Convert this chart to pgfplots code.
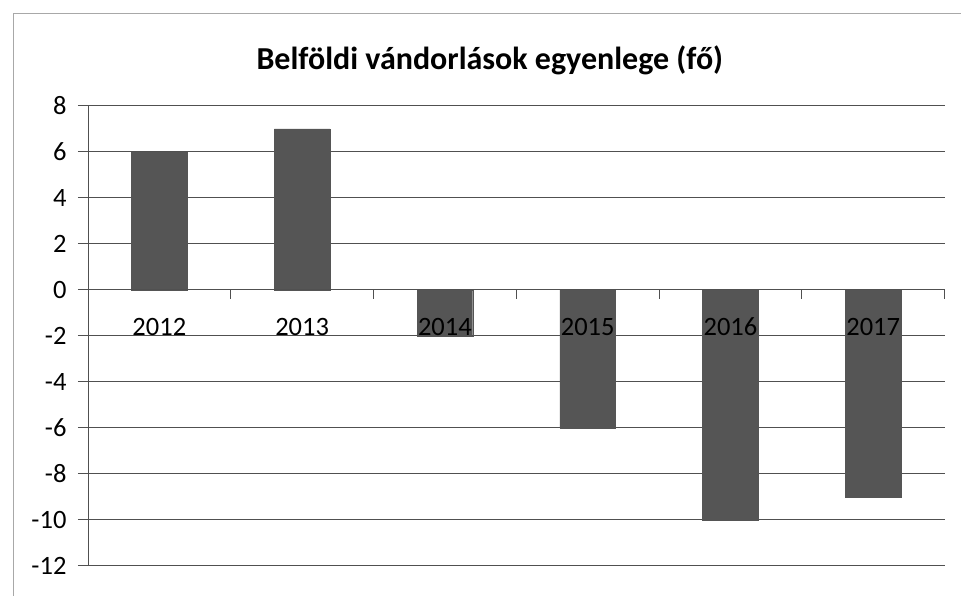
\documentclass[border=0pt]{standalone}
\usepackage{fontspec}
\setmainfont{Carlito}
\usepackage{pgfplots}
\usepackage{pgfplotstable}
\pgfplotsset{compat=1.18}
\definecolor{barfill}{HTML}{555555}
\definecolor{gridc}{HTML}{505050}
\definecolor{framec}{HTML}{A8A8A8}

% bars above the grid, axis lines and tick labels above the bars
\pgfplotsset{
  layers/barsmid/.define layer set={axis background,axis grid,pre main,main,axis ticks,axis lines,axis tick labels,axis descriptions,axis foreground}{
    grid style={/pgfplots/on layer=axis grid},
    tick style={/pgfplots/on layer=axis ticks},
    axis line style={/pgfplots/on layer=axis lines},
    label style={/pgfplots/on layer=axis descriptions},
    legend style={/pgfplots/on layer=axis descriptions},
    title style={/pgfplots/on layer=axis descriptions},
    colorbar style={/pgfplots/on layer=axis descriptions},
    ticklabel style={/pgfplots/on layer=axis tick labels},
    axis background@ style={/pgfplots/on layer=axis background},
    3d box foreground style={/pgfplots/on layer=axis foreground},
  },
}

\pgfplotstableread{
x val
0 6
1 7
2 -2
3 -6
4 -10
5 -9
}\migration

\begin{document}
\begin{tikzpicture}
\begin{axis}[
    set layers=barsmid,
    scale only axis,
    width=857pt, height=460pt,
    xmin=-0.5, xmax=5.5,
    ymin=-12, ymax=8,
    axis y line=left,
    axis x line=middle,
    axis line style={gridc, line width=0.9pt, -},
    ytick={-12,-10,...,8},
    ymajorgrids,
    grid style={gridc, line width=0.9pt},
    xtick={0,...,5},
    xticklabels={2012,2013,2014,2015,2016,2017},
    minor xtick={0.5,1.5,...,5.5},
    tick align=outside,
    major tick length=10pt,
    minor tick length=9pt,
    tick style={gridc, line width=0.9pt},
    major x tick style={draw=none},
    tick label style={font=\fontsize{26.5}{30}\selectfont},
    xticklabel style={anchor=center, yshift=-27pt},
    yticklabel style={xshift=-8pt},
    /pgf/number format/assume math mode=true,
    ybar,
    bar width=0.39,
]
\addplot[fill=barfill, draw=barfill] table[x=x, y=val] {\migration};
\end{axis}
\node[font=\bfseries\fontsize{32}{38}\selectfont] at (402pt,506pt) {Belföldi vándorlások egyenlege (fő)};
\draw[framec, line width=0.8pt] (-75pt,-30pt) -- (-75pt,553pt) -- (873pt,553pt);
\useasboundingbox (-88pt,-30pt) rectangle (873pt,566pt);
\end{tikzpicture}
\end{document}
